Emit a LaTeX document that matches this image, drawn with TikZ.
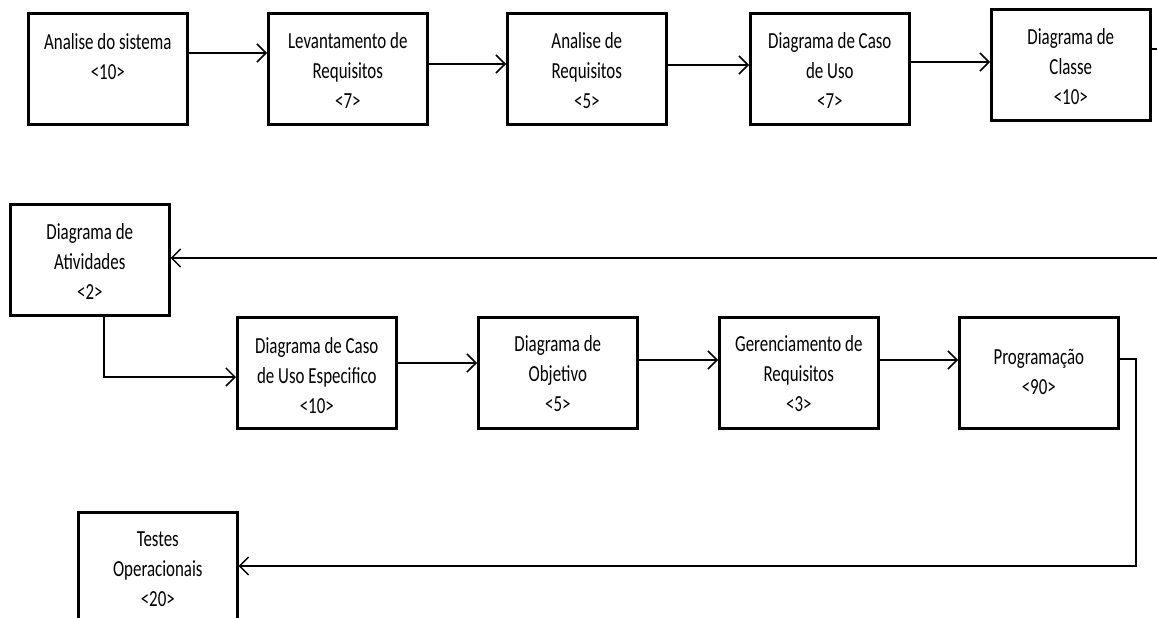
\documentclass[tikz,border=0pt]{standalone}
\usepackage{fontspec}
\setmainfont{Carlito}[FakeStretch=0.735]
\usetikzlibrary{arrows.meta}
\newcommand\bxt[2][35]{\parbox[c][111pt][t]{159pt}{\centering\rule{0pt}{#1pt}#2}}
\tikzset{
  stepbox/.style={draw=black, line width=2.6pt, inner sep=0pt, anchor=north west,
    font=\fontsize{23}{30}\selectfont},
  arr/.style={draw=black, line width=1.5pt, -{Straight Barb[length=9pt,width=18pt,line width=1.5pt]}},
  conn/.style={draw=black, line width=1.5pt}
}
\begin{document}
\begin{tikzpicture}[x=1pt,y=-1pt]
\clip (0,0) rectangle (1157,618);
\fill[white] (0,0) rectangle (1157,618);
% row 1
\node[stepbox] (b1) at (27,12) {\bxt[36]{Analise do sistema\\<10>}};
\node[stepbox] (b2) at (267,12) {\bxt{Levantamento de\\Requisitos\\<7>}};
\node[stepbox] (b3) at (506,12) {\bxt{Analise de\\Requisitos\\<5>}};
\node[stepbox] (b4) at (749,12) {\bxt{Diagrama de Caso\\de Uso\\<7>}};
\node[stepbox] (b5) at (990,8) {\bxt{Diagrama de\\Classe\\<10>}};
% row 2
\node[stepbox] (b6) at (9,203) {\bxt{Diagrama de\\Atividades\\<2>}};
\node[stepbox] (b7) at (236,316) {\bxt[36]{Diagrama de Caso\\de Uso Especifico\\<10>}};
\node[stepbox] (b8) at (477,316) {\bxt[34]{Diagrama de\\Objetivo\\<5>}};
\node[stepbox] (b9) at (718,316) {\bxt[34]{Gerenciamento de\\Requisitos\\<3>}};
\node[stepbox] (b10) at (958,316) {\bxt[47]{Programação\\<90>}};
% row 3
\node[stepbox] (b11) at (77,511) {\bxt[34]{Testes\\Operacionais\\<20>}};
% free ends at the right border
\coordinate (r1) at (1157,49);
\coordinate (r2) at (1157,258);
% connectors
\draw[arr] (b1.east |- 0,53) -- (b2.west |- 0,53);
\draw[arr] (b2.east |- 0,64) -- (b3.west |- 0,64);
\draw[arr] (b3.east |- 0,65) -- (b4.west |- 0,65);
\draw[arr] (b4.east |- 0,62) -- (b5.west |- 0,62);
\draw[conn] (b5.east |- 0,49) -- (r1);
\draw[arr] (r2) -- (b6.east |- 0,258);
\draw[arr] (b6.south -| 104,0) |- (b7.west |- 0,377);
\draw[arr] (b7.east |- 0,363) -- (b8.west |- 0,363);
\draw[arr] (b8.east |- 0,360) -- (b9.west |- 0,360);
\draw[arr] (b9.east |- 0,360) -- (b10.west |- 0,360);
\draw[arr] (b10.east |- 0,359) -- (1136,359) |- (b11.east |- 0,566);
\end{tikzpicture}
\end{document}
